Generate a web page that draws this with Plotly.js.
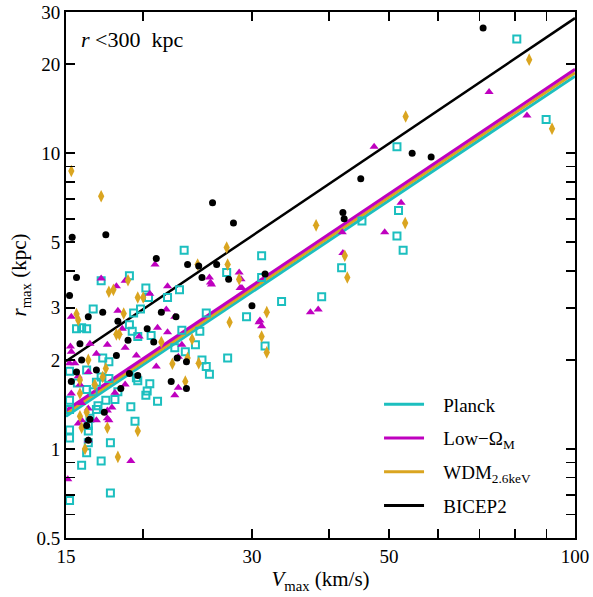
<!DOCTYPE html>
<html>
<head>
<meta charset="utf-8">
<script src="https://cdn.plot.ly/plotly-3.0.1.min.js"></script>
<style>html,body{margin:0;padding:0;background:#fff;}#chart{width:593px;height:597px;}</style>
</head>
<body>
<div id="chart"></div>
<script>
// ---- data ----
const planckX = [80.5,51.5,89.8,51.8,45.2,51.5,52.7,31.1,31.1,41.9,38.9,33.5,29.4,31.5,
  23.3,17.1,19.0,20.2,20.4,22.9,21.9,27.3,16.6,19.8,19.3,19.0,25.3,15.6,15.9,16.2,19.2,19.6,20.6,23.1,24.7,24.3,23.4,22.5,27.4,17.2,
  15.2,15.65,16.2,16.2,17.6,17.1,17.6,16.8,16.6,17.4,16.9,16.8,16.4,16.3,16.3,16.3,15.2,15.2,15.2,15.2,16.2,15.9,17.1,17.7,17.7,15.2,19.4,19.1,18.0,18.2,19.6,20.5,20.3,21.1,20.2,19.5,24.9,25.3,25.6];
const planckY = [24.3,10.5,13.0,6.4,5.9,5.25,4.7,4.5,3.8,4.1,3.27,3.15,2.8,2.23,
  4.7,3.7,3.85,3.5,3.25,3.45,3.25,3.95,2.97,2.97,2.88,2.63,2.88,2.55,2.57,2.55,2.5,2.4,2.42,2.52,2.5,2.25,2.13,2.2,2.03,2.03,
  1.83,1.67,1.85,1.59,1.97,1.75,1.73,1.68,1.56,1.46,1.4,1.36,1.27,1.2,1.15,1.05,1.46,1.36,1.16,1.09,0.97,0.88,0.91,1.05,0.71,0.67,1.24,1.39,1.47,1.56,1.70,1.66,1.57,1.45,1.52,1.74,2.0,1.9,1.79];

const lowX = [72.6,83.6,47.3,52.3,49.2,42.0,42.1,37.3,38.4,30.9,31.1,28.9,
  20.9,17.1,18.7,18.1,21.9,25.6,25.7,25.8,28.6,28.8,28.7,20.5,18.2,21.8,22.5,21.1,18.5,21.9,15.3,18.7,17.5,16.4,15.25,15.3,19.5,23.1,22.8,30.8,
  15.2,15.5,16.8,21.0,22.5,22.8,18.7,18.0,16.3,15.7,15.8,15.3,15.9,16.3,16.8,15.7,15.9,17.5,17.5,17.6,17.8,16.3,15.1,19.1,19.7];
const lowY = [16.1,13.4,10.5,6.8,5.4,5.4,4.6,2.9,2.96,2.72,2.6,3.5,
  4.2,3.77,3.7,3.55,3.55,3.8,3.65,3.6,3.95,3.75,3.5,3.35,2.93,2.96,2.8,2.57,2.55,2.48,2.8,2.2,2.25,2.27,2.22,2.13,2.07,2.25,2.05,2.68,
  1.95,1.95,2.1,1.9,1.52,1.61,1.65,1.55,1.82,1.76,1.65,1.54,1.43,1.37,1.25,1.22,1.25,1.35,1.27,1.25,1.38,1.07,0.79,0.91,2.4];

const wdmX = [84.3,53.2,91.8,38.1,53.1,42.4,42.8,31.7,31.1,31.7,15.3,17.1,
  27.3,27.4,24.5,18.9,17.6,17.9,19.6,20.0,28.6,15.6,15.7,18.6,18.1,18.3,27.6,21.4,24.0,
  23.6,24.6,22.3,23.4,16.3,16.7,17.2,17.4,15.8,16.2,15.8,15.9,17.5,19.6,16.1,18.2,15.8];
const wdmY = [20.7,13.3,12.1,5.7,5.8,4.5,3.8,2.9,2.4,2.12,8.7,7.15,
  4.8,4.2,4.2,3.72,3.4,3.45,3.25,3.25,3.75,2.86,2.73,2.87,2.44,2.44,2.68,2.3,2.35,
  2.03,1.95,1.94,1.69,2.0,1.65,1.75,1.87,1.54,1.33,1.29,1.18,1.18,1.15,1.0,0.94,1.71];

const bicepX = [71,54.5,58.5,45,42.1,42.3,31.5,30.0,15.35,17.4,25.9,28.0,15.6,15.2,21.0,23.6,24.6,26.3,24.9,27.5,
  17.2,16.3,21.4,22.6,18.2,20.3,15.8,18.9,20.8,18.1,15.9,15.6,16.8,15.3,19.6,22.2,23.5,23.5,18.4,16.4,17.3,19.0,22.7,16.2,16.3];
const bicepY = [26.5,10.0,9.7,8.2,6.3,6.0,3.9,3.05,5.2,5.3,6.8,5.8,3.8,3.3,4.4,4.2,4.15,4.2,3.8,3.75,
  2.9,2.8,2.9,2.8,2.7,2.55,2.27,2.33,2.3,2.07,2.0,1.82,1.85,1.69,1.77,1.69,1.97,1.6,1.6,1.26,1.33,1.8,2.03,1.2,1.07];

// fitted relations (end points)
const fitX = [15, 100];
const planckFit = [1.29, 18.2];
const lowFit = [1.35, 19.2];
const wdmFit = [1.32, 18.7];
const bicepFit = [1.98, 28.6];

const xTicks = [15,20,30,40,50,60,70,80,90,100];
const xTickText = ['15','','30','','50','','','','','100'];
const yTicks = [0.5,0.6,0.7,0.8,0.9,1,2,3,4,5,6,7,8,9,10,20,30];
const yTickText = ['0.5','','','','','1','2','3','','5','','','','','10','20','30'];

const names = ['Planck','Low\u2212\u03A9<sub>M</sub>','WDM<sub>2.6keV</sub>','BICEP2'];
const colors = ['#1CBFBF','#BF00BF','#DAA520','#000000'];

const FONT = 'Liberation Serif, DejaVu Serif, serif';

const traces = [];
// fitted lines
const fits = [planckFit, lowFit, wdmFit, bicepFit];
[0,2,1,3].forEach(i => {
  traces.push({x: fitX, y: fits[i], mode: 'lines', name: names[i],
    line: {color: colors[i], width: i===3 ? 2.5 : 3}, showlegend: false, hoverinfo: 'skip'});
});
// markers
traces.push({x: planckX, y: planckY, mode: 'markers', showlegend: false,
  marker: {symbol: 'square-open', size: 7, color: colors[0], line: {width: 2, color: colors[0]}}});
traces.push({x: lowX, y: lowY, mode: 'markers', showlegend: false,
  marker: {symbol: 'triangle-up', size: 8, color: colors[1], line: {width: 0}}});
traces.push({x: wdmX, y: wdmY, mode: 'markers', showlegend: false,
  marker: {symbol: 'diamond-tall', size: 9, color: colors[2], line: {width: 0}}});
traces.push({x: bicepX, y: bicepY, mode: 'markers', showlegend: false,
  marker: {symbol: 'circle', size: 7, color: colors[3], line: {width: 0}}});
// legend entries
[0,1,2,3].forEach(i => {
  traces.push({x: [null], y: [null], mode: 'lines', name: '\u00a0\u00a0\u00a0' + names[i], legendgroup: 'g'+i,
    line: {color: colors[i], width: 3}, showlegend: true});
});

const axisCommon = {
  type: 'log', showgrid: false, zeroline: false, showline: true, linecolor: '#000', linewidth: 2,
  mirror: 'ticks', ticks: 'inside', ticklen: 9, tickwidth: 1.5, tickcolor: '#000',
  tickmode: 'array', tickfont: {family: FONT, size: 19, color: '#000'}
};

const layout = {
  width: 593, height: 597,
  margin: {l: 66, r: 18, t: 12, b: 59},
  paper_bgcolor: '#fff', plot_bgcolor: '#fff',
  font: {family: FONT, color: '#000'},
  xaxis: Object.assign({}, axisCommon, {
    range: [Math.log10(15), 2], tickvals: xTicks, ticktext: xTickText,
    title: {text: '<i>V</i><sub>max</sub> (km/s)', font: {family: FONT, size: 21}, standoff: 6}
  }),
  yaxis: Object.assign({}, axisCommon, {
    range: [Math.log10(0.5), Math.log10(30)], tickvals: yTicks, ticktext: yTickText,
    title: {text: '<i>r</i><sub>max</sub> (kpc)', font: {family: FONT, size: 21}, standoff: 4}
  }),
  legend: {x: 0.615, y: 0.29, xanchor: 'left', yanchor: 'top', bgcolor: 'rgba(0,0,0,0)',
    font: {family: FONT, size: 19, color: '#000'}, traceorder: 'grouped', tracegroupgap: 6, itemwidth: 40},
  annotations: [{xref: 'paper', yref: 'paper', x: 0.025, y: 0.975, xanchor: 'left', yanchor: 'top',
    text: '<i>r</i> <300\u00a0 kpc', showarrow: false, font: {family: FONT, size: 22, color: '#000'}}]
};

Plotly.newPlot('chart', traces, layout, {displayModeBar: false, staticPlot: true});
</script>
</body>
</html>
